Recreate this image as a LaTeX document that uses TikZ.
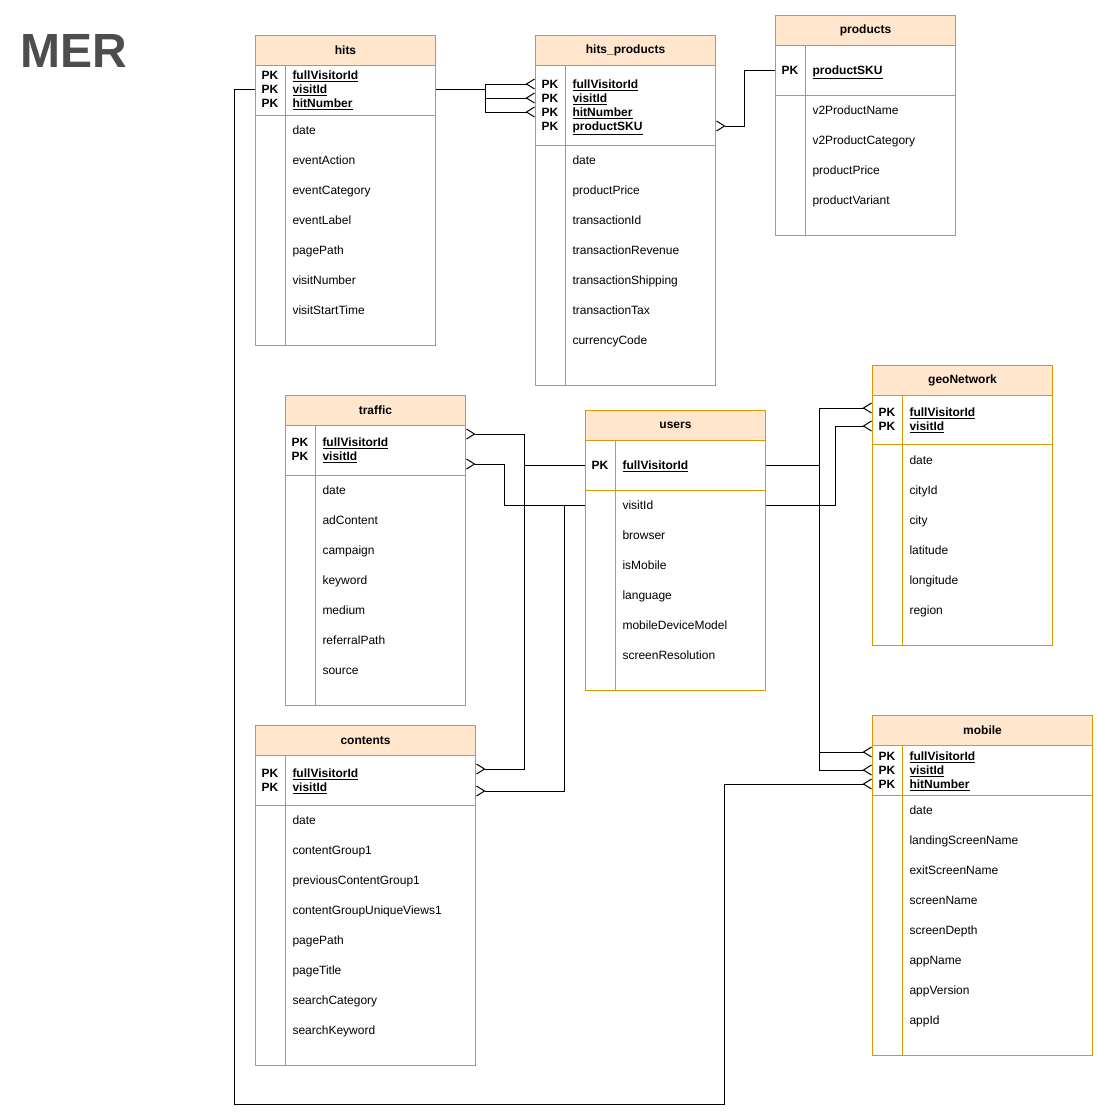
\documentclass[tikz,border=0pt]{standalone}
\usepackage{fontspec}
\setmainfont{Liberation Sans}
\usetikzlibrary{arrows.meta,calc}
\definecolor{tblline}{HTML}{D79B00}
\definecolor{tblhead}{HTML}{FFE6CC}
\definecolor{titlegray}{HTML}{4D4D4D}

\begin{document}
\begin{tikzpicture}[x=1pt,y=-1pt,line width=1pt,font=\fontsize{12}{14}\selectfont,
  tbl/.style={draw=tblline,anchor=north west,inner sep=0pt},
  head/.style={draw=tblline,fill=tblhead,anchor=north west,inner sep=0pt,minimum height=30pt,font=\fontsize{12}{14}\selectfont\bfseries},
  pk/.style={anchor=west,inner sep=0pt,text height=8.6pt,text depth=0pt,font=\fontsize{12}{14}\selectfont\bfseries},
  field/.style={anchor=west,inner sep=0pt,text height=8.6pt,text depth=0pt},
  sep/.style={draw=tblline},
  rel/.style={draw=black,-{Straight Barb[reversed,length=8pt,width=10pt]}}]
  \useasboundingbox (0,0) rectangle (1098,1120);

  \node[anchor=west,inner sep=0pt,text=titlegray,font=\fontsize{48}{48}\selectfont\bfseries] (title) at (20,51) {MER};

  % hits
  \node[tbl,minimum width=180pt,minimum height=310pt] (hits) at (255,35) {};
  \node[head,minimum width=180pt] (hits-h) at (255,35) {hits};
  \draw[sep] (255,115) -- (435,115) (285,65) -- (285,345);
  \foreach \k [count=\i] in {fullVisitorId,visitId,hitNumber} {
    \node[pk] (hits-p\i) at (261,61+14*\i) {PK};
    \node[pk] (hits-k\i) at (292,61+14*\i) {\underline{\k}};
  }
  \foreach \f [count=\i] in {date,eventAction,eventCategory,eventLabel,pagePath,visitNumber,visitStartTime}
    \node[field] (hits-f\i) at (292,100+30*\i) {\f};

  % hits_products
  \node[tbl,minimum width=180pt,minimum height=350pt] (hp) at (535,35) {};
  \node[head,minimum width=180pt] (hp-h) at (535,35) {hits\_products};
  \draw[sep] (535,145) -- (715,145) (565,65) -- (565,385);
  \foreach \k [count=\i] in {fullVisitorId,visitId,hitNumber,productSKU} {
    \node[pk] (hp-p\i) at (541,70+14*\i) {PK};
    \node[pk] (hp-k\i) at (572,70+14*\i) {\underline{\k}};
  }
  \foreach \f [count=\i] in {date,productPrice,transactionId,transactionRevenue,transactionShipping,transactionTax,currencyCode}
    \node[field] (hp-f\i) at (572,130+30*\i) {\f};

  % products
  \node[tbl,minimum width=180pt,minimum height=220pt] (prod) at (775,15) {};
  \node[head,minimum width=180pt] (prod-h) at (775,15) {products};
  \draw[sep] (775,95) -- (955,95) (805,45) -- (805,235);
  \node[pk] (prod-p1) at (781,70) {PK};
  \node[pk] (prod-k1) at (812,70) {\underline{productSKU}};
  \foreach \f [count=\i] in {v2ProductName,v2ProductCategory,productPrice,productVariant}
    \node[field] (prod-f\i) at (812,80+30*\i) {\f};

  % traffic
  \node[tbl,minimum width=180pt,minimum height=310pt] (traffic) at (285,395) {};
  \node[head,minimum width=180pt] (traffic-h) at (285,395) {traffic};
  \draw[sep] (285,475) -- (465,475) (315,425) -- (315,705);
  \foreach \k [count=\i] in {fullVisitorId,visitId} {
    \node[pk] (traffic-p\i) at (291,428+14*\i) {PK};
    \node[pk] (traffic-k\i) at (322,428+14*\i) {\underline{\k}};
  }
  \foreach \f [count=\i] in {date,adContent,campaign,keyword,medium,referralPath,source}
    \node[field] (traffic-f\i) at (322,460+30*\i) {\f};

  % users
  \node[tbl,minimum width=180pt,minimum height=280pt] (users) at (585,410) {};
  \node[head,minimum width=180pt] (users-h) at (585,410) {users};
  \draw[sep] (585,490) -- (765,490) (615,440) -- (615,690);
  \node[pk] (users-p1) at (591,465) {PK};
  \node[pk] (users-k1) at (622,465) {\underline{fullVisitorId}};
  \foreach \f [count=\i] in {visitId,browser,isMobile,language,mobileDeviceModel,screenResolution}
    \node[field] (users-f\i) at (622,475+30*\i) {\f};

  % geoNetwork
  \node[tbl,minimum width=180pt,minimum height=280pt] (geo) at (872,365) {};
  \node[head,minimum width=180pt] (geo-h) at (872,365) {geoNetwork};
  \draw[sep] (872,444) -- (1052,444) (902,395) -- (902,645);
  \foreach \k [count=\i] in {fullVisitorId,visitId} {
    \node[pk] (geo-p\i) at (878,398+14*\i) {PK};
    \node[pk] (geo-k\i) at (909,398+14*\i) {\underline{\k}};
  }
  \foreach \f [count=\i] in {date,cityId,city,latitude,longitude,region}
    \node[field] (geo-f\i) at (909,430+30*\i) {\f};

  % contents
  \node[tbl,minimum width=220pt,minimum height=340pt] (contents) at (255,725) {};
  \node[head,minimum width=220pt] (contents-h) at (255,725) {contents};
  \draw[sep] (255,805) -- (475,805) (285,755) -- (285,1065);
  \foreach \k [count=\i] in {fullVisitorId,visitId} {
    \node[pk] (contents-p\i) at (261,759+14*\i) {PK};
    \node[pk] (contents-k\i) at (292,759+14*\i) {\underline{\k}};
  }
  \foreach \f [count=\i] in {date,contentGroup1,previousContentGroup1,contentGroupUniqueViews1,pagePath,pageTitle,searchCategory,searchKeyword}
    \node[field] (contents-f\i) at (292,790+30*\i) {\f};

  % mobile
  \node[tbl,minimum width=220pt,minimum height=340pt] (mobile) at (872,715) {};
  \node[head,minimum width=220pt] (mobile-h) at (872,715) {mobile};
  \draw[sep] (872,795) -- (1092,795) (902,745) -- (902,1055);
  \foreach \k [count=\i] in {fullVisitorId,visitId,hitNumber} {
    \node[pk] (mobile-p\i) at (878,742+14*\i) {PK};
    \node[pk] (mobile-k\i) at (909,742+14*\i) {\underline{\k}};
  }
  \foreach \f [count=\i] in {date,landingScreenName,exitScreenName,screenName,screenDepth,appName,appVersion,appId}
    \node[field] (mobile-f\i) at (909,780+30*\i) {\f};

  % relations
  \foreach \i in {1,2,3}
    \draw[rel] (hits.east |- hits-k2) -- ++(49,0) |- (hp.west |- hp-k\i);
  \draw[rel] (prod.west |- prod-k1) -- ++(-31,0) |- (hp.east |- hp-k4);
  \draw[rel] (users.west |- users-k1) -- ++(-61,0) |- ($(traffic.east |- traffic-k1)+(0,-8)$);
  \draw[rel] (users.west |- users-k1) -- ++(-61,0) |- ($(contents.east |- contents-k1)+(0,-4)$);
  \draw[rel] (users.west |- users-f1) -- ++(-81,0) |- ($(traffic.east |- traffic-k2)+(0,8)$);
  \draw[rel] (users.west |- users-f1) -- ++(-21,0) |- ($(contents.east |- contents-k2)+(0,4)$);
  \draw[rel] (users.east |- users-k1) -- ++(53,0) |- ($(geo.west |- geo-k1)+(0,-4)$);
  \draw[rel] (users.east |- users-f1) -- ++(69,0) |- (geo.west |- geo-k2);
  \draw[rel] (users.east |- users-k1) -- ++(53,0) |- ($(mobile.west |- mobile-k1)+(0,-4)$);
  \draw[rel] (users.east |- users-f1) -- ++(53,0) |- (mobile.west |- mobile-k2);
  \coordinate (loop) at (724,1104);
  \draw[rel] (hits.west |- hits-k2) -- ++(-21,0) |- (loop) |- (mobile.west |- mobile-k3);
\end{tikzpicture}
\end{document}
